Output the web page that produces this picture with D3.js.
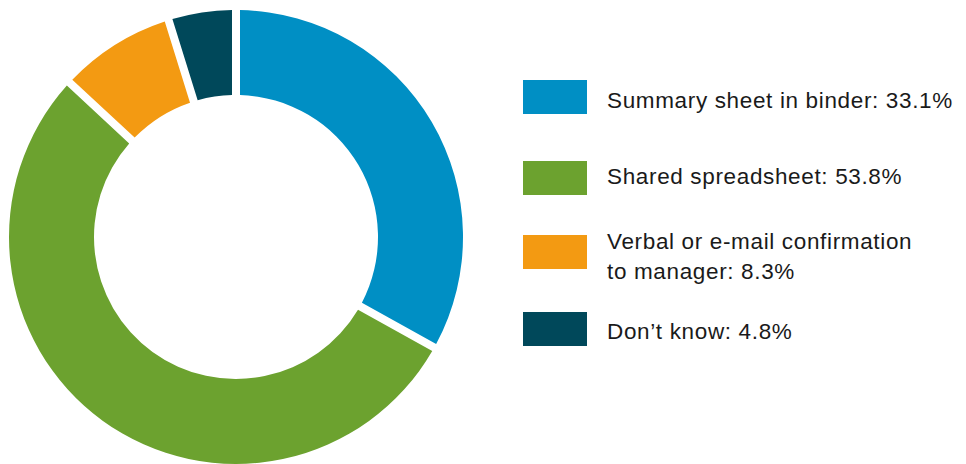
<!DOCTYPE html>
<html>
<head>
<meta charset="utf-8">
<script src="https://cdn.jsdelivr.net/npm/d3@7"></script>
<style>
  html, body { margin: 0; padding: 0; background: #fff; }
  svg { display: block; }
  text { font-family: "Liberation Sans", Arial, Helvetica, sans-serif; fill: #1a1a1a; }
</style>
</head>
<body>
<svg id="chart" width="966" height="464"></svg>
<script>
// Survey answers and their shares (percent)
const categories = [
  "Summary sheet in binder",
  "Shared spreadsheet",
  "Verbal or e-mail confirmation to manager",
  "Don’t know"
];
const values = [33.1, 53.8, 8.3, 4.8];
const colors = ["#008fc4", "#6ca22f", "#f39a12", "#00485a"];
// Legend text, broken into lines
const legendLines = [
  ["Summary sheet in binder: 33.1%"],
  ["Shared spreadsheet: 53.8%"],
  ["Verbal or e-mail confirmation", "to manager: 8.3%"],
  ["Don’t know: 4.8%"]
];

const svg = d3.select("#chart");
const cx = 236, cy = 237, outerR = 227, innerR = 142;
const gap = 8;

const pie = d3.pie().sort(null).value(d => d.value)
  .startAngle(0).endAngle(2 * Math.PI);
const data = categories.map((c, i) => ({ name: c, value: values[i], color: colors[i] }));

const padR = 200;
const arc = d3.arc()
  .innerRadius(innerR)
  .outerRadius(outerR)
  .padRadius(padR)
  .padAngle(gap / padR);

svg.append("g")
  .attr("transform", `translate(${cx},${cy})`)
  .selectAll("path")
  .data(pie(data))
  .join("path")
  .attr("d", arc)
  .attr("fill", d => d.data.color);

// Legend layout: swatch centres and first-line baselines per row
const lx = 523, sw = 64, sh = 34, tx = 607, lineH = 30, fs = 22.5;
const swatchY = [97, 178, 252, 329];
const baseY = [107.5, 183.5, 248.5, 339];
const legend = svg.append("g");
const items = legend.selectAll("g")
  .data(data)
  .join("g");

items.append("rect")
  .attr("x", lx)
  .attr("y", (d, i) => swatchY[i] - sh / 2)
  .attr("width", sw)
  .attr("height", sh)
  .attr("fill", d => d.color);

items.append("text")
  .attr("font-size", fs)
  .attr("letter-spacing", 0.65)
  .each(function (d, i) {
    const t = d3.select(this);
    legendLines[i].forEach((ln, k) => {
      t.append("tspan")
        .attr("x", tx)
        .attr("y", baseY[i] + k * lineH)
        .text(ln);
    });
  });
</script>
</body>
</html>
